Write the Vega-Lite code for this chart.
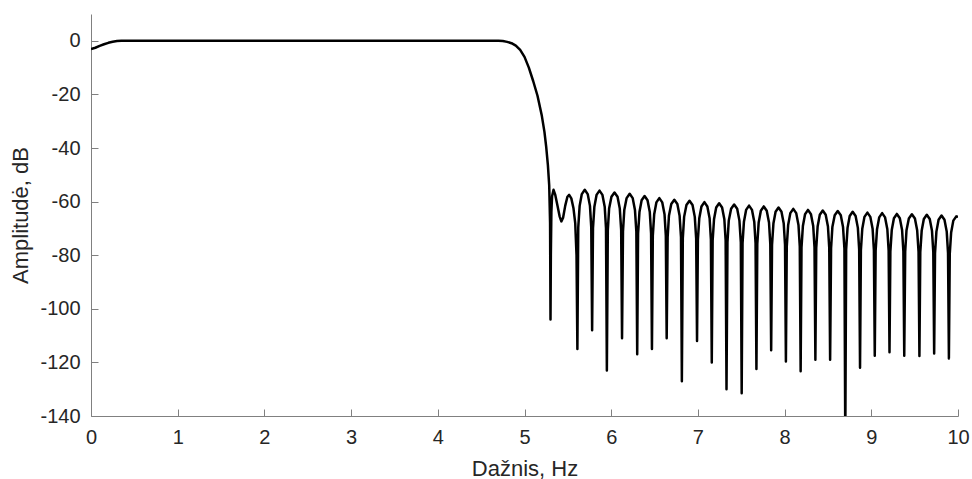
{
  "$schema": "https://vega.github.io/schema/vega-lite/v6.json",
  "autosize": "none",
  "width": 867,
  "height": 402,
  "padding": {"left": 91, "top": 14, "right": 14, "bottom": 63},
  "background": "white",
  "config": {
    "view": {"stroke": null},
    "axis": {
      "labelFont": "Liberation Sans",
      "titleFont": "Liberation Sans",
      "labelFontSize": 20,
      "titleFontSize": 22,
      "titleFontWeight": "normal",
      "labelColor": "#262626",
      "titleColor": "#262626",
      "domainColor": "#808080",
      "tickColor": "#808080",
      "domainWidth": 1,
      "tickWidth": 1,
      "tickSize": -7,
      "labelFlush": false,
      "grid": false
    }
  },
  "data": {"values": [
    {"f": 0.0, "db": -3.1}, {"f": 0.05, "db": -2.6}, {"f": 0.1, "db": -1.9}, {"f": 0.15, "db": -1.3},
    {"f": 0.2, "db": -0.75}, {"f": 0.25, "db": -0.35}, {"f": 0.3, "db": -0.1}, {"f": 0.35, "db": 0},
    {"f": 1.0, "db": 0}, {"f": 2.0, "db": 0}, {"f": 3.0, "db": 0}, {"f": 4.0, "db": 0}, {"f": 4.7, "db": 0},
    {"f": 4.75, "db": -0.1}, {"f": 4.8, "db": -0.4}, {"f": 4.85, "db": -0.9}, {"f": 4.9, "db": -1.8},
    {"f": 4.95, "db": -3.4}, {"f": 5.0, "db": -6.0}, {"f": 5.05, "db": -10.0}, {"f": 5.1, "db": -15.0},
    {"f": 5.15, "db": -20.5}, {"f": 5.2, "db": -28}, {"f": 5.23, "db": -34}, {"f": 5.25, "db": -39.5},
    {"f": 5.27, "db": -46.5}, {"f": 5.285, "db": -54}, {"f": 5.295, "db": -68}, {"f": 5.3, "db": -104},
    {"f": 5.304, "db": -80}, {"f": 5.31, "db": -64}, {"f": 5.318, "db": -58}, {"f": 5.335, "db": -55.6},
    {"f": 5.355, "db": -57.5}, {"f": 5.38, "db": -61.5}, {"f": 5.405, "db": -65.5}, {"f": 5.425, "db": -67.4},
    {"f": 5.445, "db": -66}, {"f": 5.47, "db": -61.5}, {"f": 5.495, "db": -58.2}, {"f": 5.515, "db": -57.5},
    {"f": 5.54, "db": -58.8}, {"f": 5.565, "db": -62.5}, {"f": 5.585, "db": -68}, {"f": 5.6, "db": -80},
    {"f": 5.61, "db": -115},
    {"f": 5.62, "db": -69.6}, {"f": 5.636, "db": -61.6}, {"f": 5.661, "db": -57.2}, {"f": 5.695, "db": -55.6}, {"f": 5.729, "db": -57.2}, {"f": 5.755, "db": -61.6}, {"f": 5.77, "db": -69.6},
    {"f": 5.78, "db": -108},
    {"f": 5.79, "db": -69.9}, {"f": 5.806, "db": -61.9}, {"f": 5.831, "db": -57.5}, {"f": 5.865, "db": -55.9}, {"f": 5.899, "db": -57.5}, {"f": 5.925, "db": -61.9}, {"f": 5.94, "db": -69.9},
    {"f": 5.95, "db": -123},
    {"f": 5.961, "db": -70.6}, {"f": 5.976, "db": -62.6}, {"f": 6.003, "db": -58.2}, {"f": 6.038, "db": -56.6}, {"f": 6.073, "db": -58.2}, {"f": 6.099, "db": -62.6}, {"f": 6.115, "db": -70.6},
    {"f": 6.125, "db": -111},
    {"f": 6.136, "db": -71.1}, {"f": 6.151, "db": -63.1}, {"f": 6.178, "db": -58.7}, {"f": 6.213, "db": -57.1}, {"f": 6.248, "db": -58.7}, {"f": 6.274, "db": -63.1}, {"f": 6.29, "db": -71.1},
    {"f": 6.3, "db": -117},
    {"f": 6.31, "db": -71.9}, {"f": 6.326, "db": -63.9}, {"f": 6.351, "db": -59.5}, {"f": 6.385, "db": -57.9}, {"f": 6.419, "db": -59.5}, {"f": 6.445, "db": -63.9}, {"f": 6.46, "db": -71.9},
    {"f": 6.47, "db": -115},
    {"f": 6.48, "db": -72.7}, {"f": 6.496, "db": -64.7}, {"f": 6.521, "db": -60.3}, {"f": 6.555, "db": -58.7}, {"f": 6.589, "db": -60.3}, {"f": 6.615, "db": -64.7}, {"f": 6.63, "db": -72.7},
    {"f": 6.64, "db": -111},
    {"f": 6.651, "db": -73.3}, {"f": 6.666, "db": -65.3}, {"f": 6.693, "db": -60.9}, {"f": 6.728, "db": -59.3}, {"f": 6.763, "db": -60.9}, {"f": 6.789, "db": -65.3}, {"f": 6.805, "db": -73.3},
    {"f": 6.815, "db": -127},
    {"f": 6.826, "db": -73.7}, {"f": 6.841, "db": -65.7}, {"f": 6.868, "db": -61.3}, {"f": 6.903, "db": -59.7}, {"f": 6.938, "db": -61.3}, {"f": 6.964, "db": -65.7}, {"f": 6.98, "db": -73.7},
    {"f": 6.99, "db": -112},
    {"f": 7.0, "db": -74.2}, {"f": 7.016, "db": -66.2}, {"f": 7.041, "db": -61.8}, {"f": 7.075, "db": -60.2}, {"f": 7.109, "db": -61.8}, {"f": 7.135, "db": -66.2}, {"f": 7.15, "db": -74.2},
    {"f": 7.16, "db": -120},
    {"f": 7.17, "db": -74.6}, {"f": 7.186, "db": -66.6}, {"f": 7.211, "db": -62.2}, {"f": 7.245, "db": -60.6}, {"f": 7.279, "db": -62.2}, {"f": 7.305, "db": -66.6}, {"f": 7.32, "db": -74.6},
    {"f": 7.33, "db": -130},
    {"f": 7.341, "db": -75.1}, {"f": 7.356, "db": -67.1}, {"f": 7.383, "db": -62.7}, {"f": 7.418, "db": -61.1}, {"f": 7.453, "db": -62.7}, {"f": 7.479, "db": -67.1}, {"f": 7.495, "db": -75.1},
    {"f": 7.505, "db": -131.5},
    {"f": 7.515, "db": -75.5}, {"f": 7.531, "db": -67.5}, {"f": 7.556, "db": -63.1}, {"f": 7.59, "db": -61.5}, {"f": 7.624, "db": -63.1}, {"f": 7.65, "db": -67.5}, {"f": 7.665, "db": -75.5},
    {"f": 7.675, "db": -122.5},
    {"f": 7.685, "db": -75.8}, {"f": 7.701, "db": -67.8}, {"f": 7.726, "db": -63.4}, {"f": 7.76, "db": -61.8}, {"f": 7.794, "db": -63.4}, {"f": 7.82, "db": -67.8}, {"f": 7.835, "db": -75.8},
    {"f": 7.845, "db": -115.5},
    {"f": 7.855, "db": -76.2}, {"f": 7.871, "db": -68.2}, {"f": 7.896, "db": -63.8}, {"f": 7.93, "db": -62.2}, {"f": 7.964, "db": -63.8}, {"f": 7.99, "db": -68.2}, {"f": 8.005, "db": -76.2},
    {"f": 8.015, "db": -119.7},
    {"f": 8.025, "db": -76.7}, {"f": 8.041, "db": -68.7}, {"f": 8.066, "db": -64.3}, {"f": 8.1, "db": -62.7}, {"f": 8.134, "db": -64.3}, {"f": 8.16, "db": -68.7}, {"f": 8.175, "db": -76.7},
    {"f": 8.185, "db": -123.3},
    {"f": 8.195, "db": -77.1}, {"f": 8.211, "db": -69.1}, {"f": 8.236, "db": -64.7}, {"f": 8.27, "db": -63.1}, {"f": 8.304, "db": -64.7}, {"f": 8.33, "db": -69.1}, {"f": 8.345, "db": -77.1},
    {"f": 8.355, "db": -119},
    {"f": 8.365, "db": -77.3}, {"f": 8.381, "db": -69.3}, {"f": 8.406, "db": -64.9}, {"f": 8.44, "db": -63.3}, {"f": 8.474, "db": -64.9}, {"f": 8.5, "db": -69.3}, {"f": 8.515, "db": -77.3},
    {"f": 8.525, "db": -119},
    {"f": 8.536, "db": -77.5}, {"f": 8.551, "db": -69.5}, {"f": 8.578, "db": -65.1}, {"f": 8.613, "db": -63.5}, {"f": 8.648, "db": -65.1}, {"f": 8.674, "db": -69.5}, {"f": 8.69, "db": -77.5},
    {"f": 8.7, "db": -150},
    {"f": 8.71, "db": -77.8}, {"f": 8.726, "db": -69.8}, {"f": 8.751, "db": -65.4}, {"f": 8.785, "db": -63.8}, {"f": 8.819, "db": -65.4}, {"f": 8.845, "db": -69.8}, {"f": 8.86, "db": -77.8},
    {"f": 8.87, "db": -122},
    {"f": 8.88, "db": -78.1}, {"f": 8.896, "db": -70.1}, {"f": 8.921, "db": -65.7}, {"f": 8.955, "db": -64.1}, {"f": 8.989, "db": -65.7}, {"f": 9.015, "db": -70.1}, {"f": 9.03, "db": -78.1},
    {"f": 9.04, "db": -117.5},
    {"f": 9.05, "db": -78.3}, {"f": 9.066, "db": -70.3}, {"f": 9.091, "db": -65.9}, {"f": 9.125, "db": -64.3}, {"f": 9.159, "db": -65.9}, {"f": 9.185, "db": -70.3}, {"f": 9.2, "db": -78.3},
    {"f": 9.21, "db": -116.2},
    {"f": 9.22, "db": -78.6}, {"f": 9.236, "db": -70.6}, {"f": 9.261, "db": -66.2}, {"f": 9.295, "db": -64.6}, {"f": 9.329, "db": -66.2}, {"f": 9.355, "db": -70.6}, {"f": 9.37, "db": -78.6},
    {"f": 9.38, "db": -117.5},
    {"f": 9.391, "db": -78.7}, {"f": 9.406, "db": -70.7}, {"f": 9.433, "db": -66.3}, {"f": 9.468, "db": -64.7}, {"f": 9.503, "db": -66.3}, {"f": 9.529, "db": -70.7}, {"f": 9.545, "db": -78.7},
    {"f": 9.555, "db": -117.6},
    {"f": 9.565, "db": -78.9}, {"f": 9.581, "db": -70.9}, {"f": 9.606, "db": -66.5}, {"f": 9.64, "db": -64.9}, {"f": 9.674, "db": -66.5}, {"f": 9.7, "db": -70.9}, {"f": 9.715, "db": -78.9},
    {"f": 9.725, "db": -116.7},
    {"f": 9.735, "db": -79.2}, {"f": 9.751, "db": -71.2}, {"f": 9.776, "db": -66.8}, {"f": 9.81, "db": -65.2}, {"f": 9.844, "db": -66.8}, {"f": 9.87, "db": -71.2}, {"f": 9.885, "db": -79.2},
    {"f": 9.895, "db": -118.5},
    {"f": 9.905, "db": -79.5}, {"f": 9.921, "db": -71.5}, {"f": 9.946, "db": -67.1}, {"f": 9.98, "db": -65.5}, {"f": 10.0, "db": -65.7}
  ]},
  "mark": {"type": "line", "color": "black", "strokeWidth": 2.5, "clip": true, "strokeJoin": "round"},
  "encoding": {
    "x": {
      "field": "f", "type": "quantitative", "sort": null,
      "scale": {"domain": [0, 10], "nice": false, "zero": false},
      "axis": {"title": "Dažnis, Hz", "values": [0,1,2,3,4,5,6,7,8,9,10], "labelExpr": "'' + datum.value", "labelPadding": 18, "titlePadding": 11}
    },
    "y": {
      "field": "db", "type": "quantitative",
      "scale": {"domain": [-140, 10], "nice": false, "zero": false},
      "axis": {"title": "Amplitudė, dB", "values": [-140,-120,-100,-80,-60,-40,-20,0], "labelExpr": "'' + datum.value", "labelPadding": 18, "titlePadding": 7}
    }
  }
}
